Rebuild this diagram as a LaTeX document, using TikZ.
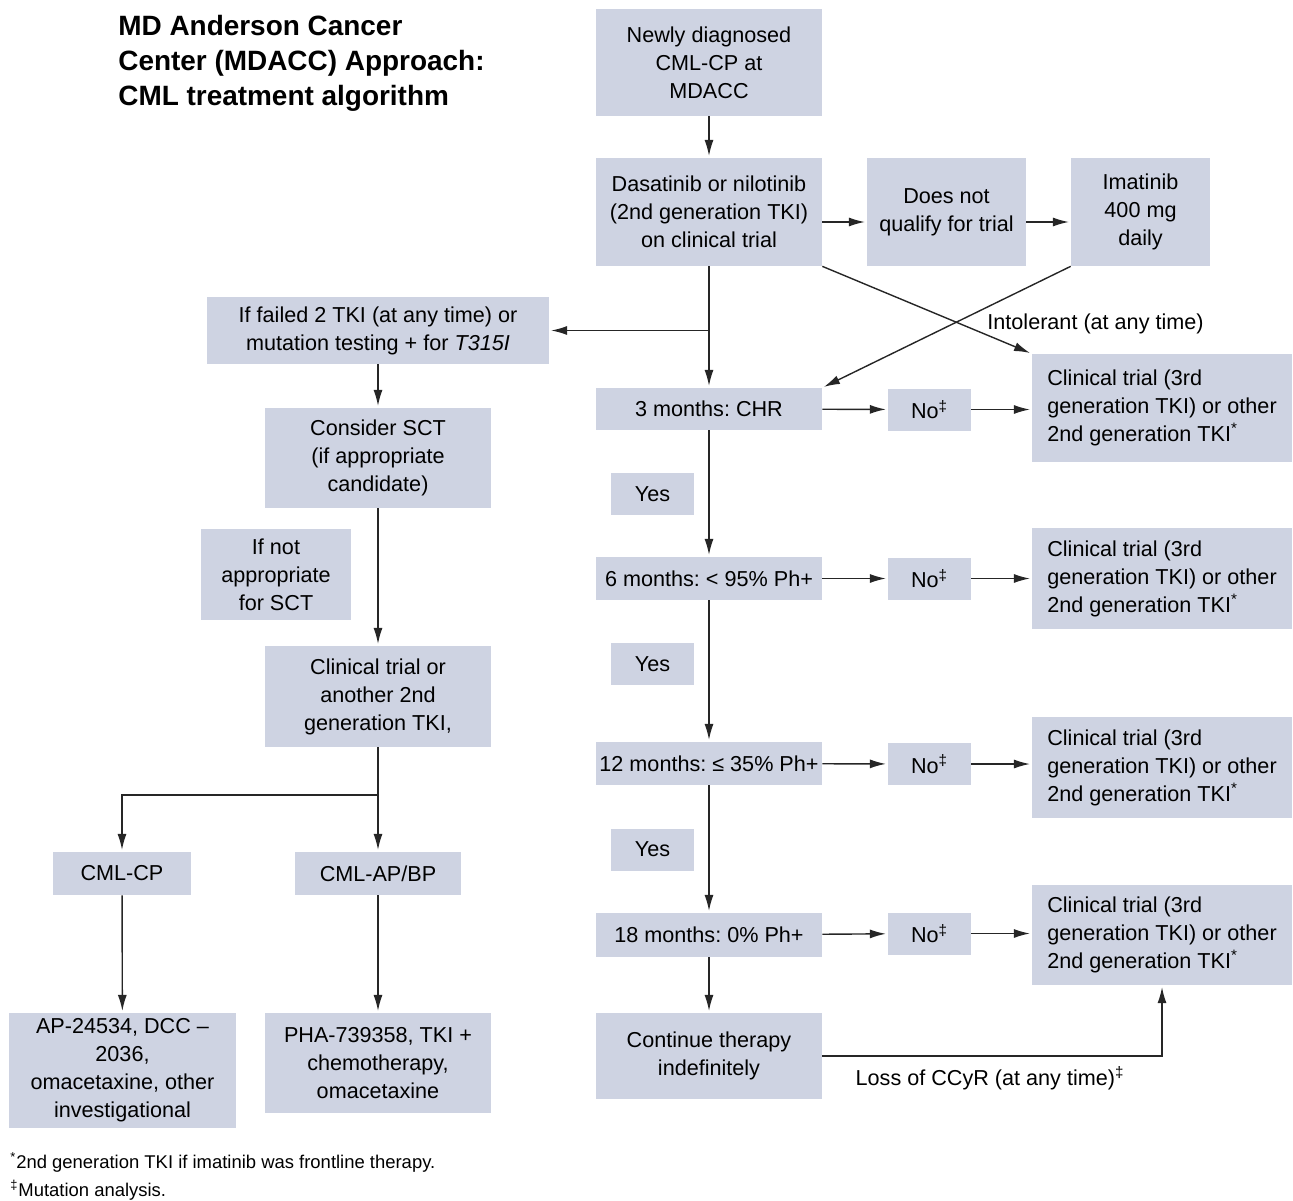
\documentclass[tikz,border=0pt]{standalone}
\usepackage{fontspec}
\setmainfont{Liberation Sans}
\frenchspacing
\usetikzlibrary{arrows.meta}
\definecolor{boxblue}{RGB}{206,211,226}
\tikzstyle{stage}=[fill=boxblue, align=center, inner sep=0pt]
\tikzstyle{main}=[stage, minimum width=4.52cm]
\tikzstyle{answer}=[stage, minimum width=1.66cm, minimum height=0.84cm]
\tikzstyle{trial}=[stage, align=left, minimum width=5.2cm, minimum height=2.02cm]
\tikzstyle{flow}=[->, line width=0.8pt, draw=black!85, shorten >=1pt]

\begin{document}
\begin{tikzpicture}[>={Latex[length=3.2mm,width=1.8mm]}, x=0.02cm, y=-0.02cm,
    every node/.style={font=\fontsize{12.3}{15.9}\selectfont}]
    \useasboundingbox (0,0) rectangle (1293,1200);

    % Title
    \draw (118,15) node[anchor=north west, inner sep=0pt, align=left, font=\fontsize{15.9}{19.9}\selectfont\bfseries] (title) {MD Anderson Cancer\\Center (MDACC) Approach:\\CML treatment algorithm};

    % Main line
    \draw (709,62.5) node[main, minimum height=2.14cm] (new) {Newly diagnosed\\CML-CP at\\MDACC};
    \draw (709,212) node[main, minimum height=2.16cm] (dasa) {Dasatinib or nilotinib\\(2nd generation TKI)\\on clinical trial};
    \draw (946.5,212) node[stage, minimum width=3.18cm, minimum height=2.16cm] (noqual) {Does not\\qualify for trial};
    \draw (1140.5,212) node[stage, minimum width=2.78cm, minimum height=2.16cm] (imat) {Imatinib\\400 mg\\daily};
    \draw (709,409) node[main, minimum height=0.84cm] (m3) {3 months: CHR};
    \draw (709,578.5) node[main, minimum height=0.86cm] (m6) {6 months: < 95\% Ph+};
    \draw (709,763.5) node[main, minimum height=0.86cm] (m12) {12 months: ≤ 35\% Ph+};
    \draw (709,935) node[main, minimum height=0.88cm] (m18) {18 months: 0\% Ph+};
    \draw (709,1056) node[main, minimum height=1.72cm] (cont) {Continue therapy\\indefinitely};

    % Answers
    \draw (652.5,494) node[answer] (yes1) {Yes};
    \draw (652.5,664) node[answer] (yes2) {Yes};
    \draw (652.5,849.5) node[answer] (yes3) {Yes};
    \draw (929.5,409.5) node[answer] (no1) {No\textsuperscript{‡}};
    \draw (929.5,578.5) node[answer] (no2) {No\textsuperscript{‡}};
    \draw (929.5,764) node[answer] (no3) {No\textsuperscript{‡}};
    \draw (929.5,933.5) node[answer] (no4) {No\textsuperscript{‡}};

    % Trials
    \draw (1162,408) node[trial, minimum height=2.16cm] (ct1) {Clinical trial (3rd\\generation TKI) or other\\2nd generation TKI\textsuperscript{*}};
    \draw (1162,578.5) node[trial] (ct2) {Clinical trial (3rd\\generation TKI) or other\\2nd generation TKI\textsuperscript{*}};
    \draw (1162,767.5) node[trial] (ct3) {Clinical trial (3rd\\generation TKI) or other\\2nd generation TKI\textsuperscript{*}};
    \draw (1162,935) node[trial, minimum height=2.0cm] (ct4) {Clinical trial (3rd\\generation TKI) or other\\2nd generation TKI\textsuperscript{*}};

    % Failure branch
    \draw (378,330.5) node[stage, minimum width=6.84cm, minimum height=1.34cm] (fail) {If failed 2 TKI (at any time) or\\mutation testing + for \textit{T315I}};
    \draw (378,458) node[main, minimum height=2.0cm] (sct) {Consider SCT\\(if appropriate\\candidate)};
    \draw (276,574.5) node[stage, minimum width=3.0cm, minimum height=1.82cm] (notsct) {If not\\appropriate\\for SCT};
    \draw (378,696.5) node[main, minimum height=2.02cm] (other) {Clinical trial or\\another 2nd\\generation TKI,};
    \draw (122,873.5) node[stage, minimum width=2.76cm, minimum height=0.86cm] (cp) {CML-CP};
    \draw (378,873.5) node[stage, minimum width=3.32cm, minimum height=0.86cm] (apbp) {CML-AP/BP};
    \draw (122.5,1070.5) node[stage, minimum width=4.54cm, minimum height=2.3cm] (cpdrugs) {AP-24534, DCC –\\2036,\\omacetaxine, other\\investigational};
    \draw (378,1063) node[main, minimum height=2.0cm] (bpdrugs) {PHA-739358, TKI +\\chemotherapy,\\omacetaxine};
    \coordinate (split) at (378,795);

    % Labels
    \draw (1095.5,324) node (intol) {Intolerant (at any time)};
    \draw (990,1078) node (loss) {Loss of CCyR (at any time)\textsuperscript{‡}};
    \draw (10,1162) node[anchor=west, inner sep=0pt, font=\fontsize{10.5}{12}\selectfont] (fn1) {\textsuperscript{*}2nd generation TKI if imatinib was frontline therapy.};
    \draw (10,1190) node[anchor=west, inner sep=0pt, font=\fontsize{10.5}{12}\selectfont] (fn2) {\textsuperscript{‡}Mutation analysis.};

    % Connectors
    \draw[flow] (new) -- (dasa);
    \draw[flow] ([yshift=-0.2cm]dasa.east) -- ([yshift=-0.2cm]noqual.west);
    \draw[flow] ([yshift=-0.2cm]noqual.east) -- ([yshift=-0.2cm]imat.west);
    \draw[flow] (dasa) -- (m3);
    \draw[flow] (dasa.south |- fail.east) -- (fail.east);
    \draw[flow] (dasa.south east) -- (ct1.north west);
    \draw[flow] (imat.south west) -- (m3.north east);
    \draw[flow] (m3) -- (no1);
    \draw[flow] (no1) -- (no1 -| ct1.west);
    \draw[flow] (m3) -- (m6);
    \draw[flow] (m6) -- (no2);
    \draw[flow] (no2) -- (no2 -| ct2.west);
    \draw[flow] (m6) -- (m12);
    \draw[flow] (m12) -- (no3);
    \draw[flow] (no3) -- (no3 -| ct3.west);
    \draw[flow] (m12) -- (m18);
    \draw[flow] (m18) -- (no4);
    \draw[flow] (no4) -- (no4 -| ct4.west);
    \draw[flow] (m18) -- (cont);
    \draw[flow] (cont.east) -| (ct4.south);
    \draw[flow] (fail) -- (sct);
    \draw[flow] (sct) -- (other);
    \draw[flow] (other) -- (apbp);
    \draw[flow] (split) -| (cp.north);
    \draw[flow] (cp) -- (cpdrugs);
    \draw[flow] (apbp) -- (bpdrugs);
\end{tikzpicture}
\end{document}
